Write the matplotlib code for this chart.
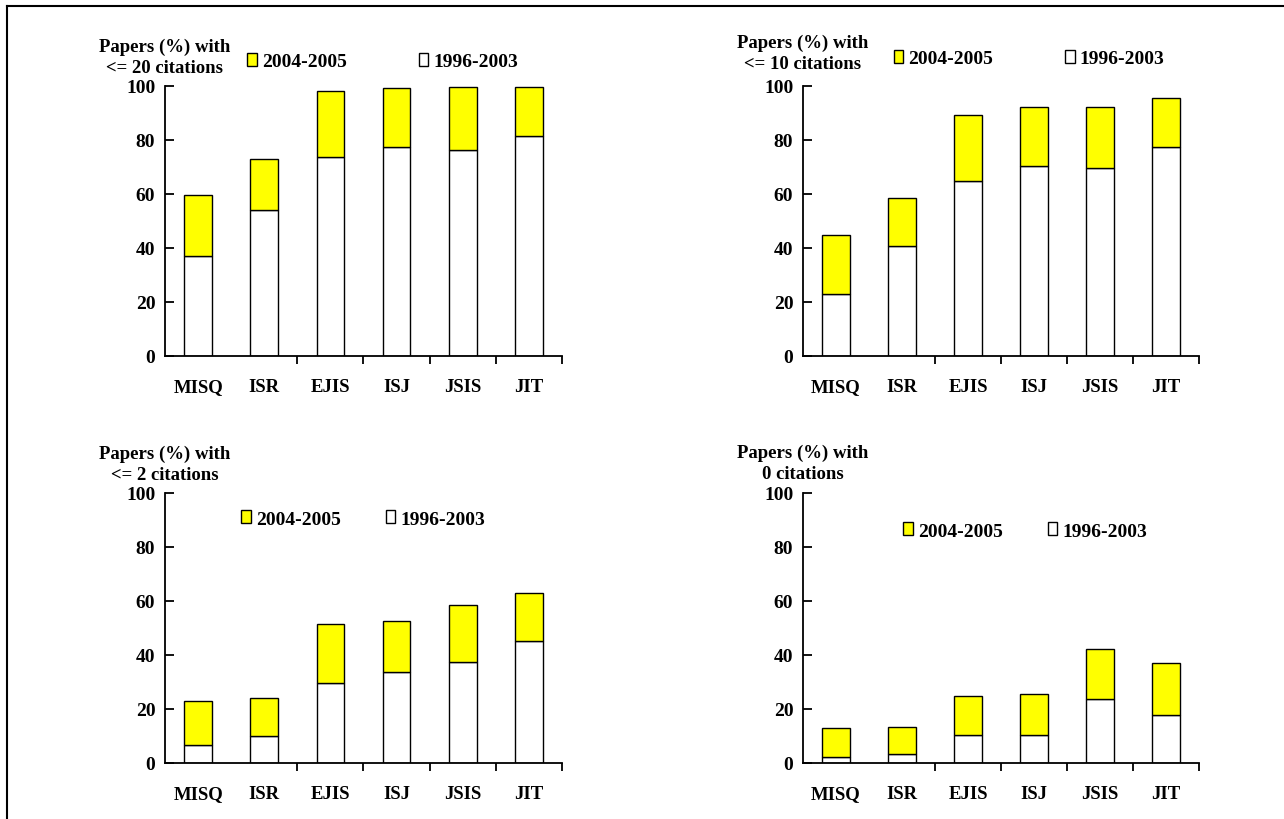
import matplotlib
matplotlib.use("Agg")
import matplotlib.pyplot as plt
from matplotlib.patches import Patch
from matplotlib.lines import Line2D
import numpy as np

journals = ["MISQ", "ISR", "EJIS", "ISJ", "JSIS", "JIT"]
series_labels = ["2004-2005", "1996-2003"]

# (1996-2003 value, total incl. 2004-2005) per panel
le20_old = [37.0, 54.1, 73.7, 77.4, 76.3, 81.5]
le20_total = [59.6, 73.0, 98.1, 99.3, 99.6, 99.6]
le10_old = [23.0, 40.7, 64.8, 70.4, 69.6, 77.4]
le10_total = [44.8, 58.5, 89.3, 92.2, 92.2, 95.6]
le2_old = [6.7, 10.0, 29.6, 33.7, 37.4, 45.2]
le2_total = [23.0, 24.1, 51.5, 52.6, 58.5, 63.0]
zero_old = [2.2, 3.3, 10.4, 10.4, 23.7, 17.8]
zero_total = [13.0, 13.3, 24.8, 25.6, 42.2, 37.0]

titles = ["Papers (%) with\n<= 20 citations", "Papers (%) with\n<= 10 citations",
          "Papers (%) with\n<= 2 citations", "Papers (%) with\n0 citations"]
yticks = [0, 20, 40, 60, 80, 100]

plt.rcParams['font.family'] = ['Liberation Serif', 'DejaVu Serif']
plt.rcParams['font.weight'] = 'bold'

fig = plt.figure(figsize=(12.84, 8.2), dpi=100)
W, H = 1284, 820

def axrect(l, r, t, b):
    return [l / W, 1 - b / H, (r - l) / W, (b - t) / H]

rects = [axrect(165, 562, 87, 357), axrect(803, 1199, 87, 357),
         axrect(165, 562, 494, 764), axrect(803, 1199, 494, 764)]
data = [(le20_old, le20_total), (le10_old, le10_total),
        (le2_old, le2_total), (zero_old, zero_total)]
leg_pos = [(0.548, 1.09), (0.571, 1.103), (0.499, 0.904), (0.561, 0.859)]
leg_colsp = [3.7, 3.7, 2.3, 2.3]
title_y = [1.107, 1.124, 1.107, 1.113]

x = np.arange(len(journals))
for i in range(4):
    ax = fig.add_axes(rects[i])
    old, total = data[i]
    old = np.array(old)
    total = np.array(total)
    ax.bar(x, old, width=0.42, color="white", edgecolor="black", linewidth=1.0)
    ax.bar(x, total - old, bottom=old, width=0.42, color="#FFFF00",
           edgecolor="black", linewidth=1.0)
    ax.set_xlim(-0.5, 5.5)
    ax.set_ylim(0, 100)
    ax.spines['top'].set_visible(False)
    ax.spines['right'].set_visible(False)
    ax.spines['left'].set_linewidth(1.3)
    ax.spines['bottom'].set_linewidth(1.3)
    ax.set_yticks(yticks)
    ax.set_yticklabels([str(v) for v in yticks], fontsize=14, fontweight='bold')
    ax.tick_params(axis='y', direction='in', length=6.5, width=1.3, pad=7)
    ax.set_xticks(x)
    ax.set_xticklabels(journals, fontsize=13.5, fontweight='bold')
    ax.tick_params(axis='x', which='major', length=0, pad=25)
    for lab in ax.get_xticklabels():
        lab.set_verticalalignment('baseline')
    ax.set_xticks(x[1:] + 0.5, minor=True)
    ax.tick_params(axis='x', which='minor', direction='out', length=6, width=1.3)
    ax.text(0.0, title_y[i], titles[i], transform=ax.transAxes, ha='center',
            va='center', fontsize=13.5, fontweight='bold', linespacing=1.32)
    handles = [Patch(facecolor="#FFFF00", edgecolor="black", linewidth=1.0),
               Patch(facecolor="white", edgecolor="black", linewidth=1.0)]
    ax.legend(handles, series_labels, ncol=2, frameon=False, loc='center',
              bbox_to_anchor=leg_pos[i], handlelength=0.5,
              handleheight=0.65, handletextpad=0.25, columnspacing=leg_colsp[i],
              borderpad=0, borderaxespad=0, prop={'weight': 'bold', 'size': 14})

# figure border (left and top lines)
fig.add_artist(Line2D([6.5 / W, 6.5 / W], [0, 1 - 6.5 / H], color='black', linewidth=1.5,
                      transform=fig.transFigure))
fig.add_artist(Line2D([6.5 / W, 1], [1 - 6.5 / H, 1 - 6.5 / H], color='black', linewidth=1.5,
                      transform=fig.transFigure))

fig.savefig("out.png", dpi=100)
